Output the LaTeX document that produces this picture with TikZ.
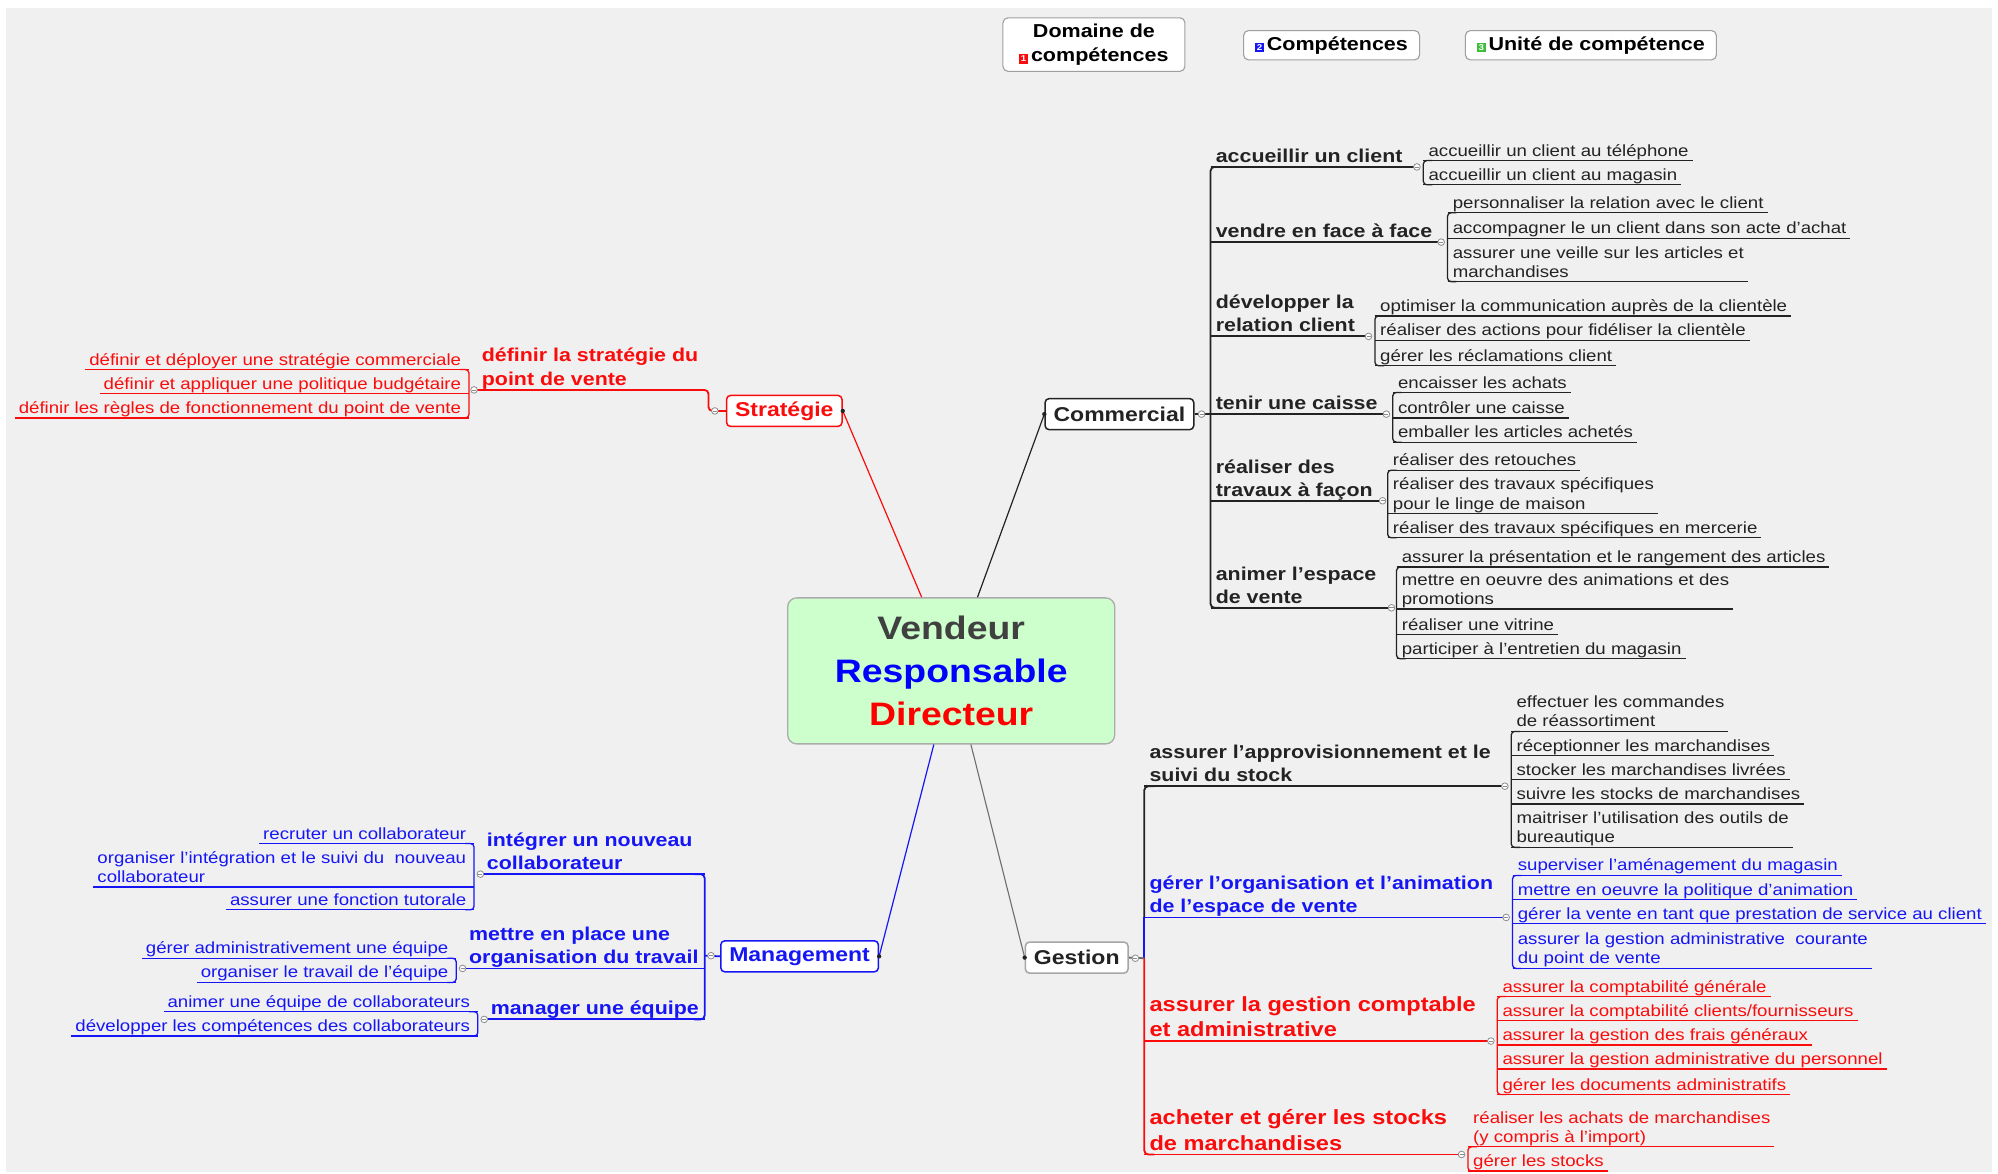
\documentclass[tikz,border=0pt]{standalone}
\usepackage{fontspec}
\setmainfont{Liberation Sans}[FakeStretch=1.15]
\usetikzlibrary{calc}
\definecolor{cred}{RGB}{250,12,12}
\definecolor{cblue}{RGB}{22,22,245}
\definecolor{cdark}{RGB}{35,35,35}
\definecolor{cvend}{RGB}{64,64,64}
\definecolor{cbg}{RGB}{240,240,240}
\definecolor{cgreen}{RGB}{204,255,204}
\definecolor{cgest}{RGB}{110,110,110}
\definecolor{cmk}{RGB}{140,140,140}
\definecolor{cicon}{RGB}{60,190,60}
\newcommand{\ml}[1]{\begin{tabular}[b]{@{}l@{}}#1\end{tabular}}
\newcommand{\lgicon}[2]{\raisebox{-0.5pt}{\setlength{\fboxsep}{1.6pt}\colorbox{#1}{\fontsize{8.5}{8.5}\selectfont\textcolor{white}{#2}}}\hspace{3pt}}
\tikzset{
 leaf/.style={inner sep=0pt, font=\fontsize{16.2}{19.1}\selectfont},
 lvtwo/.style={inner sep=0pt, font=\bfseries\fontsize{18.6}{23.3}\selectfont},
 lvtwobig/.style={inner sep=0pt, font=\bfseries\fontsize{20.5}{25.5}\selectfont},
 leafline/.style={line width=1.3pt},
 twoline/.style={line width=1.8pt},
 topic/.style={draw, fill=white, rounded corners=4pt, line width=1.5pt, inner xsep=8.5pt, inner ysep=0pt, minimum height=31pt, font=\bfseries\fontsize{20}{24}\selectfont},
 legend/.style={draw=gray!75, fill=white, rounded corners=5pt, line width=1.1pt, inner sep=0pt, font=\bfseries\fontsize{18.7}{24}\selectfont, align=center},
}
\newcommand{\mk}[2]{\draw[cmk, line width=0.8pt, fill=white] (#1,#2) circle[radius=2.6]; \draw[cmk, line width=0.8pt] ({#1-1.6},#2) -- ({#1+1.6},#2);}
\newcommand{\RL}[5]{%
 \node[leaf, text=#4, anchor=base west] (#1) at ({#2+4},{#3-3.5}) {#5};
 \coordinate (#1-s) at (#2,#3);
 \draw[#4, leafline] (#1-s) -- (#1-s -| #1.east) -- ++(3,0);
}
\newcommand{\LL}[5]{%
 \node[leaf, text=#4, anchor=base east] (#1) at ({#2-6},{#3-3.5}) {#5};
 \coordinate (#1-s) at (#2,#3);
 \draw[#4, leafline] (#1-s) -- (#1-s -| #1.west) -- ++(-3,0);
}
\newcommand{\BR}[4]{\draw[#4, leafline, rounded corners=3.5pt] ({#1+7},#2) -- (#1,#2) -- (#1,#3) -- ({#1+7},#3);}
\newcommand{\BL}[4]{\draw[#4, leafline, rounded corners=3.5pt] ({#1-7},#2) -- (#1,#2) -- (#1,#3) -- ({#1-7},#3);}
\newcommand{\RT}[7]{%
 \draw[#4, twoline] (#2,#3) -- (#6,#3);
 \mk{#6}{#3}
 \node[#5, text=#4, anchor=base west] (#1) at ({#2+4},{#3-3.5}) {#7};
}
\newcommand{\LT}[8]{%
 \draw[#4, twoline] (#2,#3) -- (#6,#3);
 \mk{#6}{#3}
 \node[#5, text=#4, anchor=base west] (#1) at (#7,{#3-3.5}) {#8};
}
\begin{document}
\begin{tikzpicture}[x=1.2742pt, y=-1.2742pt]
\useasboundingbox (0,0) rectangle (1568,921);
\fill[white] (0,0) rectangle (1568,921);
\fill[cbg] (5,6) rectangle (1563,920);

% legend
\node[legend, minimum width=182pt, minimum height=53.5pt] (lg1) at (858.5,35) {Domaine de\\\lgicon{cred}{1}compétences};
\node[legend, minimum width=176pt, minimum height=29.3pt] (lg2) at (1045,35.5) {\lgicon{cblue}{2}Compétences};
\node[legend, minimum width=251pt, minimum height=29.3pt] (lg3) at (1248.5,35.5) {\lgicon{cicon}{3}Unité de compétence};

% central node and main topics
\node[draw=gray!65, line width=1.3pt, fill=cgreen, rounded corners=9pt, minimum width=327pt, minimum height=146pt, align=center, inner sep=0pt, font=\bfseries\fontsize{32.5}{42.7}\selectfont] (ctr) at (746.5,526.5) {\textcolor{cvend}{Vendeur}\\\textcolor{blue}{Responsable}\\\textcolor{red}{Directeur}};
\node[topic, draw=cred, text=cred] (strat) at (615.5,322.5) {Stratégie};
\node[topic, draw=cdark, text=cdark] (comm) at (878.5,325) {Commercial};
\node[topic, draw=cblue, text=cblue] (mgmt) at (627.5,750.5) {Management};
\node[topic, draw=gray!70, text=cdark] (gest) at (845,751.5) {Gestion};

\draw[cred, line width=1.2pt] ($(ctr.north west)!0.41!(ctr.north east)$) -- (strat.east);
\fill[cdark] (strat.east) circle[radius=1.7];
\draw[cdark, line width=1.2pt] ($(ctr.north west)!0.58!(ctr.north east)$) -- (comm.west);
\fill[cdark] (comm.west) circle[radius=1.7];
\draw[cblue, line width=1.2pt] ($(ctr.south west)!0.447!(ctr.south east)$) -- (mgmt.east);
\fill[cdark] (mgmt.east) circle[radius=1.7];
\draw[cgest, line width=1.1pt] ($(ctr.south west)!0.56!(ctr.south east)$) -- (gest.west);
\fill[cdark] (gest.west) circle[radius=1.7];

% ---------- Commercial
\draw[cdark, twoline, rounded corners=4pt] (958,131) -- (950,131) -- (950,477) -- (958,477);
\draw[cdark, twoline] (comm.east) -- (950,325);
\mk{943}{325}

\RT{ca}{950}{131}{cdark}{lvtwo}{1112}{accueillir un client}
\BR{1117}{126}{145}{cdark}
\RL{ca1}{1117}{126}{cdark}{accueillir un client au téléphone}
\RL{ca2}{1117}{145}{cdark}{accueillir un client au magasin}

\RT{cb}{950}{190}{cdark}{lvtwo}{1131}{vendre en face à face}
\BR{1136}{167}{221}{cdark}
\RL{cb1}{1136}{167}{cdark}{personnaliser la relation avec le client}
\RL{cb2}{1136}{187}{cdark}{accompagner le un client dans son acte d'achat}
\RL{cb3}{1136}{221}{cdark}{\ml{assurer une veille sur les articles et\\marchandises}}

\RT{cc}{950}{264}{cdark}{lvtwo}{1074}{\ml{développer la\\relation client}}
\BR{1079}{248}{287}{cdark}
\RL{cc1}{1079}{248}{cdark}{optimiser la communication auprès de la clientèle}
\RL{cc2}{1079}{267}{cdark}{réaliser des actions pour fidéliser la clientèle}
\RL{cc3}{1079}{287}{cdark}{gérer les réclamations client}

\RT{cd}{950}{325}{cdark}{lvtwo}{1088}{tenir une caisse}
\BR{1093}{308}{347}{cdark}
\RL{cd1}{1093}{308}{cdark}{encaisser les achats}
\RL{cd2}{1093}{328}{cdark}{contrôler une caisse}
\RL{cd3}{1093}{347}{cdark}{emballer les articles achetés}

\RT{ce}{950}{393}{cdark}{lvtwo}{1085}{\ml{réaliser des\\travaux à façon}}
\BR{1089}{369}{422}{cdark}
\RL{ce1}{1089}{369}{cdark}{réaliser des retouches}
\RL{ce2}{1089}{403}{cdark}{\ml{réaliser des travaux spécifiques\\pour le linge de maison}}
\RL{ce3}{1089}{422}{cdark}{réaliser des travaux spécifiques en mercerie}

\RT{cf}{950}{477}{cdark}{lvtwo}{1092}{\ml{animer l'espace\\de vente}}
\BR{1096}{445}{517}{cdark}
\RL{cf1}{1096}{445}{cdark}{assurer la présentation et le rangement des articles}
\RL{cf2}{1096}{478}{cdark}{\ml{mettre en oeuvre des animations et des\\promotions}}
\RL{cf3}{1096}{498}{cdark}{réaliser une vitrine}
\RL{cf4}{1096}{517}{cdark}{participer à l'entretien du magasin}

% ---------- Gestion
\draw[cdark, twoline, rounded corners=4pt] (906,617) -- (898,617) -- (898,720);
\draw[cblue, twoline] (898,720) -- (898,752);
\draw[cred, twoline, rounded corners=4pt] (898,752) -- (898,906) -- (906,906);
\draw[cgest, twoline] (gest.east) -- (898,752);
\mk{891}{752}

\RT{ga}{898}{617}{cdark}{lvtwo}{1181}{\ml{assurer l'approvisionnement et le\\suivi du stock}}
\BR{1186}{574}{665}{cdark}
\RL{ga1}{1186}{574}{cdark}{\ml{effectuer les commandes\\de réassortiment}}
\RL{ga2}{1186}{593}{cdark}{réceptionner les marchandises}
\RL{ga3}{1186}{612}{cdark}{stocker les marchandises livrées}
\RL{ga4}{1186}{631}{cdark}{suivre les stocks de marchandises}
\RL{ga5}{1186}{665}{cdark}{\ml{maitriser l'utilisation des outils de\\bureautique}}

\RT{gb}{898}{720}{cblue}{lvtwo}{1182}{\ml{gérer l'organisation et l'animation\\de l'espace de vente}}
\BR{1187}{687}{760}{cblue}
\RL{gb1}{1187}{687}{cblue}{superviser l'aménagement du magasin}
\RL{gb2}{1187}{706}{cblue}{mettre en oeuvre la politique d'animation}
\RL{gb3}{1187}{725}{cblue}{gérer la vente en tant que prestation de service au client}
\RL{gb4}{1187}{760}{cblue}{\ml{assurer la gestion administrative~ courante\\du point de vente}}

\RT{gc}{898}{817}{cred}{lvtwobig}{1170}{\ml{assurer la gestion comptable\\et administrative}}
\BR{1175}{782}{859}{cred}
\RL{gc1}{1175}{782}{cred}{assurer la comptabilité générale}
\RL{gc2}{1175}{801}{cred}{assurer la comptabilité clients/fournisseurs}
\RL{gc3}{1175}{820}{cred}{assurer la gestion des frais généraux}
\RL{gc4}{1175}{839}{cred}{assurer la gestion administrative du personnel}
\RL{gc5}{1175}{859}{cred}{gérer les documents administratifs}

\RT{gd}{898}{906}{cred}{lvtwobig}{1147}{\ml{acheter et gérer les stocks\\de marchandises}}
\BR{1152}{900}{919}{cred}
\RL{gd1}{1152}{900}{cred}{\ml{réaliser les achats de marchandises\\(y compris à l'import)}}
\RL{gd2}{1152}{919}{cred}{gérer les stocks}

% ---------- Management
\draw[cblue, twoline, rounded corners=4pt] (545,686) -- (553,686) -- (553,800) -- (545,800);
\draw[cblue, twoline] (mgmt.west) -- (553,750);
\mk{558}{750}

\LT{ma}{553}{686}{cblue}{lvtwo}{377}{382}{\ml{intégrer un nouveau\\collaborateur}}
\BL{372}{662}{714}{cblue}
\LL{ma1}{372}{662}{cblue}{recruter un collaborateur}
\LL{ma2}{372}{696}{cblue}{\ml{organiser l'intégration et le suivi du~ nouveau\\collaborateur}}
\LL{ma3}{372}{714}{cblue}{assurer une fonction tutorale}

\LT{mb}{553}{760}{cblue}{lvtwo}{363}{368}{\ml{mettre en place une\\organisation du travail}}
\BL{358}{752}{771}{cblue}
\LL{mb1}{358}{752}{cblue}{gérer administrativement une équipe}
\LL{mb2}{358}{771}{cblue}{organiser le travail de l'équipe}

\LT{mc}{553}{800}{cblue}{lvtwo}{380}{385}{manager une équipe}
\BL{375}{794}{813}{cblue}
\LL{mc1}{375}{794}{cblue}{animer une équipe de collaborateurs}
\LL{mc2}{375}{813}{cblue}{développer les compétences des collaborateurs}

% ---------- Stratégie
\draw[cred, twoline, rounded corners=4pt] (strat.west) -- (556,322.5) -- (556,306) -- (372,306);
\mk{561}{322.5}
\mk{372}{306}
\node[lvtwo, text=cred, anchor=base west, font=\bfseries\fontsize{18.6}{24}\selectfont] (sa) at (378,302.5) {\ml{définir la stratégie du\\point de vente}};
\BL{368}{290}{328}{cred}
\LL{sa1}{368}{290}{cred}{définir et déployer une stratégie commerciale}
\LL{sa2}{368}{309}{cred}{définir et appliquer une politique budgétaire}
\LL{sa3}{368}{328}{cred}{définir les règles de fonctionnement du point de vente}
\end{tikzpicture}
\end{document}
